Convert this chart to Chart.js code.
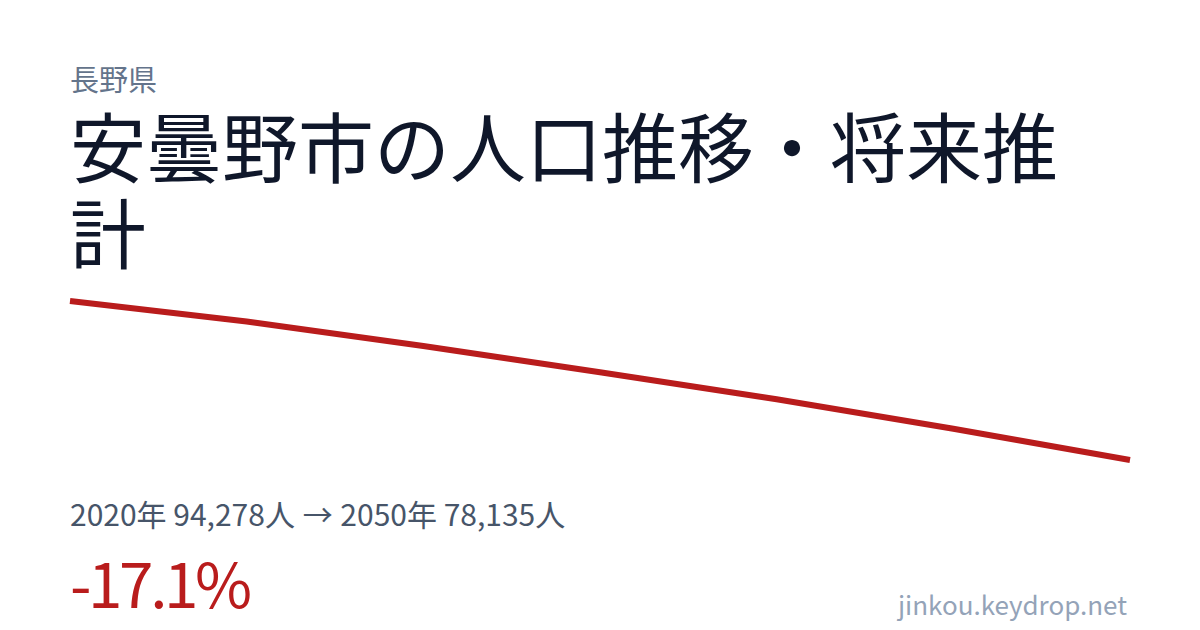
<!DOCTYPE html>
<html lang="ja">
<head>
<meta charset="utf-8">
<script src="https://cdn.jsdelivr.net/npm/chart.js@4"></script>
<style>
  html, body { margin: 0; padding: 0; background: #fff; }
  body { width: 1200px; height: 630px; position: relative; overflow: hidden;
         font-family: "Noto Sans CJK JP", "Noto Sans", sans-serif; }
  .t { position: absolute; white-space: nowrap; line-height: 1; }
  #pref { left: 70px; top: 64px; font-size: 29px; color: #64748b; }
  #title { left: 70px; top: 101px; width: 1060px; font-size: 76px; line-height: 86px;
           color: #0f172a; white-space: normal; position: absolute; }
  #stats { left: 70px; top: 498px; font-size: 30px; color: #475569; }
  #stats .arr { display: inline-block; margin: 0 1px; }
  #pct { left: 70px; top: 550px; font-size: 62px; color: #b91c1c; letter-spacing: -3.4px; }
  #site { right: 73px; top: 591px; font-size: 26px; color: #94a3b8; }
  #wrap { position: absolute; left: 66px; top: 297px; width: 1068px; height: 167px; }
</style>
</head>
<body>
<div class="t" id="pref">長野県</div>
<div id="title">安曇野市の人口推移・将来推計</div>
<div class="t" id="stats">2020年 94,278人 <span class="arr">→</span> 2050年 78,135人</div>
<div class="t" id="pct">-17.1%</div>
<div class="t" id="site">jinkou.keydrop.net</div>
<div id="wrap"><canvas id="pop"></canvas></div>
<script>
// 年次と人口（推計）
const years = ["2020", "2025", "2030", "2035", "2040", "2045", "2050"];
const population = [94278, 92200, 89700, 87050, 84300, 81300, 78135];

var popCanvas = document.getElementById("pop")
var popChart = new Chart(popCanvas, {
  type: 'line',
  data: {
    labels: years,
    datasets: [
      {
        data: population,
        borderColor: "#b91c1c",
        borderWidth: 6,
        pointRadius: 0,
        tension: 0,
        fill: false,
        clip: false
      }
    ]
  },
  options: {
    responsive: true,
    maintainAspectRatio: false,
    animation: false,
    layout: { padding: 4 },
    plugins: { legend: { display: false }, tooltip: { enabled: false } },
    scales: {
      x: { display: false },
      y: { display: false, min: Math.min(...population), max: Math.max(...population) }
    }
  }
})
</script>
</body>
</html>
